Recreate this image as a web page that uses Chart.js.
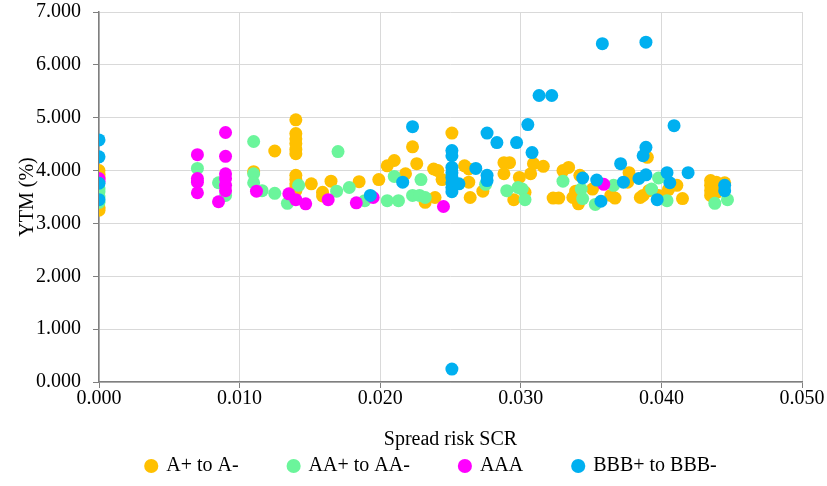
<!DOCTYPE html>
<html>
<head>
<meta charset="utf-8">
<script src="https://cdn.jsdelivr.net/npm/chart.js@4.4.1/dist/chart.umd.min.js"></script>
<style>
  html, body { margin: 0; padding: 0; background: #fff; }
</style>
</head>
<body>
<canvas id="chart" width="827" height="486"></canvas>
<script>
// series: spread risk SCR (x) vs YTM % (y)
const seriesNames = ['A+ to A-', 'AA+ to AA-', 'AAA', 'BBB+ to BBB-'];
const seriesColors = ['#FFC000', '#6BF59B', '#FF00FF', '#00B0F0'];

const aX = [0, 0, 0, 0, 0, 0.0110, 0.0125,
  0.0140, 0.0140, 0.0140, 0.0140, 0.0140, 0.0140, 0.0140, 0.0140, 0.0140, 0.0140, 0.0140,
  0.0151, 0.0159, 0.0159, 0.0165, 0.0185, 0.0199, 0.0205, 0.0210, 0.0218, 0.0223, 0.0226,
  0.0232, 0.0238, 0.0241, 0.0239, 0.0244, 0.0251, 0.0260, 0.0263, 0.0263, 0.0264, 0.0273,
  0.0288, 0.0288, 0.0292, 0.0295, 0.0299, 0.0303, 0.0307, 0.0309, 0.0316, 0.0323, 0.0327,
  0.0330, 0.0334, 0.0337, 0.0339, 0.0341, 0.0342, 0.0351, 0.0364, 0.0367, 0.0376, 0.0377,
  0.0385, 0.0387, 0.0390, 0.0391, 0.0398, 0.0405, 0.0411, 0.0415,
  0.0435, 0.0435, 0.0435, 0.0435, 0.0439, 0.0439, 0.0445];
const aY = [4.00, 3.93, 3.87, 3.30, 3.25, 3.98, 4.37,
  4.96, 4.70, 4.60, 4.51, 4.40, 4.32, 3.91, 3.83, 3.75, 3.68, 3.62,
  3.75, 3.59, 3.52, 3.80, 3.79, 3.83, 4.09, 4.19, 3.94, 4.45, 4.13,
  3.40, 4.03, 4.00, 3.49, 3.83, 4.71, 4.09, 4.03, 3.78, 3.49, 3.61,
  4.15, 3.94, 4.15, 3.45, 3.87, 3.59, 3.94, 4.13, 4.08, 3.48, 3.48,
  4.00, 4.06, 3.49, 3.61, 3.37, 3.91, 3.65, 3.53, 3.48, 3.78, 3.96,
  3.49, 3.53, 4.25, 3.62, 3.53, 3.64, 3.72, 3.47,
  3.81, 3.72, 3.62, 3.53, 3.78, 3.58, 3.77];

const aaX = [0, 0, 0, 0, 0.0070, 0.0085, 0.0090, 0.0110, 0.0110, 0.0110, 0.0116, 0.0125,
  0.0142, 0.0134, 0.0170, 0.0169, 0.0178, 0.0189, 0.0205, 0.0213, 0.0210, 0.0229, 0.0223,
  0.0228, 0.0232, 0.0275, 0.0290, 0.0298, 0.0301, 0.0303, 0.0330, 0.0343, 0.0344, 0.0353,
  0.0366, 0.0393, 0.0398, 0.0404, 0.0438, 0.0447];
const aaY = [3.65, 3.60, 3.50, 3.40, 4.04, 3.77, 3.53, 4.55, 3.94, 3.77, 3.62, 3.57,
  3.72, 3.38, 4.36, 3.61, 3.68, 3.43, 3.43, 3.43, 3.89, 3.83, 3.53,
  3.53, 3.49, 3.74, 3.62, 3.68, 3.65, 3.45, 3.80, 3.65, 3.47, 3.36,
  3.72, 3.65, 3.86, 3.43, 3.38, 3.45];

const aaaX = [0, 0, 0.0070, 0.0070, 0.0070, 0.0070, 0.0085, 0.0090, 0.0090, 0.0090, 0.0090,
  0.0090, 0.0090, 0.0112, 0.0135, 0.0140, 0.0147, 0.0163, 0.0183, 0.0195, 0.0245, 0.0359];
const aaaY = [3.85, 3.80, 4.30, 3.85, 3.78, 3.58, 3.41, 4.72, 4.27, 3.94, 3.85,
  3.72, 3.62, 3.61, 3.56, 3.45, 3.37, 3.45, 3.39, 3.49, 3.32, 3.74];

const bbbX = [0, 0, 0, 0, 0.0193, 0.0216, 0.0223,
  0.0251, 0.0251, 0.0251, 0.0251, 0.0251, 0.0251, 0.0251, 0.0251, 0.0256, 0.0251,
  0.0268, 0.0276, 0.0276, 0.0276, 0.0283, 0.0297, 0.0305, 0.0308, 0.0313, 0.0322,
  0.0344, 0.0354, 0.0357, 0.0358, 0.0371, 0.0373, 0.0384, 0.0389, 0.0389, 0.0387, 0.0389,
  0.0397, 0.0404, 0.0406, 0.0409, 0.0419, 0.0445, 0.0445];
const bbbY = [4.58, 4.26, 3.76, 3.45, 3.53, 3.78, 4.83,
  4.38, 4.28, 4.06, 3.96, 3.87, 3.77, 3.68, 3.60, 3.75, 0.245,
  4.04, 4.71, 3.91, 3.81, 4.53, 4.53, 4.87, 4.34, 5.42, 5.42,
  3.86, 3.82, 3.42, 6.40, 4.13, 3.78, 3.85, 6.43, 4.44, 4.28, 3.92,
  3.45, 3.96, 3.77, 4.85, 3.96, 3.72, 3.62];

const xTicksMax = 0.05;
const yTicksMax = 7;

const toPoints = (xs, ys) => xs.map((x, i) => ({ x: x, y: ys[i] }));
const seriesX = [aX, aaX, aaaX, bbbX];
const seriesY = [aY, aaY, aaaY, bbbY];
// later series sit on top of earlier ones, as in the picture
const drawOrder = [4, 3, 2, 1];

Chart.defaults.font.family = "'Liberation Serif', 'Times New Roman', serif";
Chart.defaults.font.size = 20;
Chart.defaults.color = '#000';

new Chart(document.getElementById('chart'), {
    type: 'scatter',
    data: {
        datasets: seriesNames.map((name, i) => ({
            label: name,
            data: toPoints(seriesX[i], seriesY[i]),
            backgroundColor: seriesColors[i],
            borderColor: seriesColors[i],
            borderWidth: 0,
            pointRadius: 6.5,
            pointStyle: 'circle',
            order: drawOrder[i],
        })),
    },
    options: {
        responsive: false,
        animation: false,
        layout: { padding: { left: 36, top: 0, right: 0, bottom: 0 } },
        plugins: {
            tooltip: { enabled: false },
            legend: {
                position: 'bottom',
                labels: {
                    usePointStyle: true,
                    pointStyle: 'circle',
                    boxWidth: 10,
                    boxHeight: 10,
                    padding: 50,
                    color: '#000',
                    sort: (a, b) => a.datasetIndex - b.datasetIndex,
                },
            },
        },
        scales: {
            x: {
                type: 'linear',
                min: 0,
                max: xTicksMax,
                border: { color: '#7f7f7f', width: 1.5 },
                grid: { color: '#d9d9d9', lineWidth: 1, tickColor: '#7f7f7f', tickLength: 6 },
                ticks: {
                    stepSize: 0.01,
                    padding: -1,
                    maxRotation: 0,
                    callback: (v) => v.toFixed(3),
                },
                title: {
                    display: true,
                    text: 'Spread risk SCR',
                    padding: { top: 0, bottom: -46 },
                },
                afterFit: (scale) => {
                    scale.height = 24;
                    scale.paddingRight = 25;
                },
            },
            y: {
                type: 'linear',
                min: 0,
                max: yTicksMax,
                border: { color: '#7f7f7f', width: 1.5 },
                grid: { color: '#d9d9d9', lineWidth: 1, tickColor: '#7f7f7f', tickLength: 6 },
                ticks: {
                    stepSize: 1,
                    padding: 0,
                    crossAlign: 'far',
                    callback: (v) => v.toFixed(3),
                },
                title: {
                    display: true,
                    text: 'YTM (%)',
                    padding: { top: -20, bottom: 0 },
                },
                afterFit: (scale) => { scale.width = 63; },
            },
        },
    },
});
</script>
</body>
</html>
